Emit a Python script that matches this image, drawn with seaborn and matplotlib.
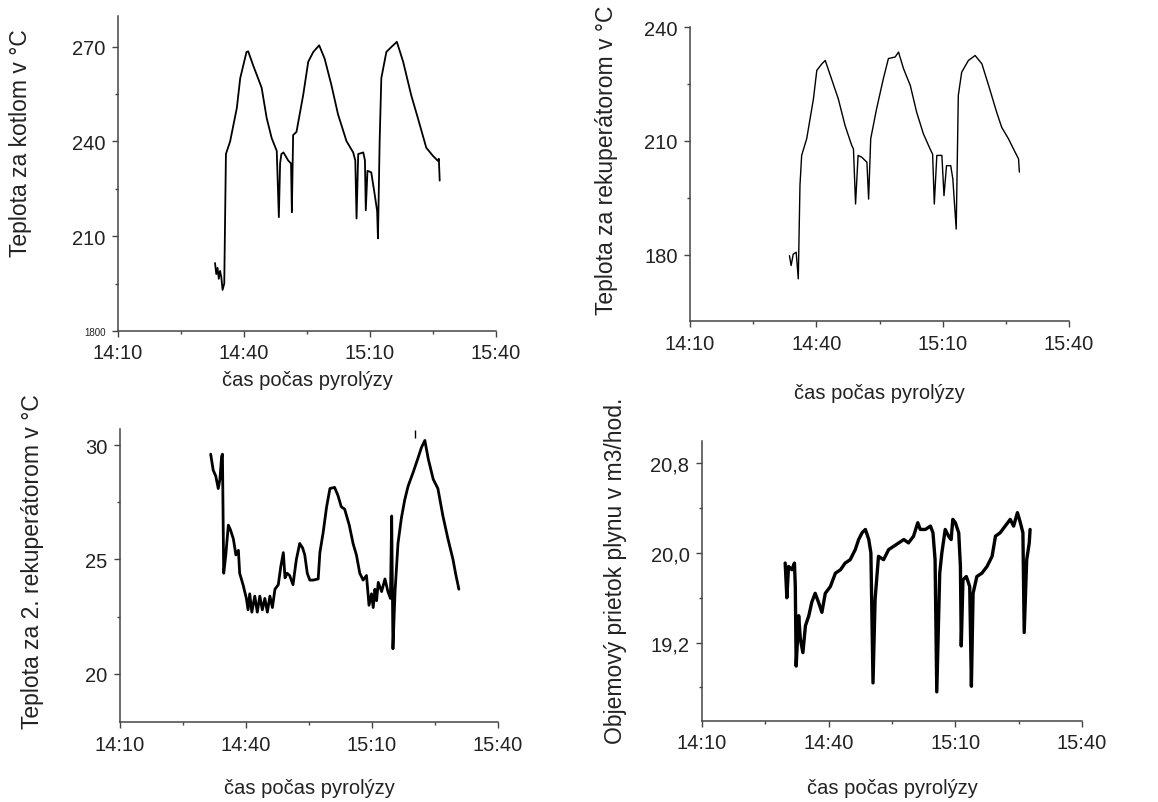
import pandas as pd
import numpy as np
import matplotlib
matplotlib.use("Agg")
import matplotlib.pyplot as plt
import seaborn as sns
from matplotlib.ticker import FixedLocator

# time in minutes after 14:10
t_kotol = [23.1, 23.4, 23.7, 24.0, 24.3, 24.6, 24.9, 25.3, 25.7, 26.2, 26.7, 28.3, 29.1,
           30.6, 31.0, 32.2, 34.2, 35.4, 36.6, 37.8, 38.3, 38.6, 38.9, 39.4, 40.5, 41.2,
           41.4, 41.7, 42.5, 44.1, 45.3, 46.5, 47.9, 49.2, 50.8, 52.4, 54.4, 56.0, 56.5,
           56.8, 57.2, 58.4, 58.8, 59.0, 59.4, 60.3, 61.1, 61.7, 61.9, 62.3, 62.7, 63.9,
           65.1, 66.4, 67.9, 69.8, 71.4, 73.4, 75.0, 76.2, 76.4, 76.6]
v_kotol = [201.5, 198, 200, 196.5, 199, 197, 193, 195, 236, 238, 240, 250.6, 260,
           268.3, 268.5, 264, 257, 247.4, 241, 237, 216, 233, 236, 236.5, 234, 233,
           217.6, 242, 243, 254.7, 265.2, 268.3, 270.4, 266.2, 257.9, 248.5, 240.1, 236.5, 234,
           215.6, 236, 236.5, 234, 218.2, 230.7, 230.2, 223.4, 218, 209.3, 240, 260, 268.3,
           269.9, 271.5, 265.2, 254.7, 247.4, 238, 235.4, 233.8, 234.5, 227.6]

t_rekup = [23.6, 24.0, 24.5, 25.2, 25.7, 26.1, 26.5, 27.7, 29.3, 30.1, 31.3, 32.1, 33.3,
           35.2, 36.8, 38.4, 38.8, 39.3, 39.9, 40.8, 42.0, 42.4, 42.9, 44.3, 45.9, 47.1,
           48.7, 49.5, 50.7, 52.3, 53.8, 55.4, 57.0, 57.6, 58.0, 58.6, 59.8, 60.3, 60.9,
           61.9, 62.4, 63.2, 63.7, 64.5, 66.1, 67.7, 69.3, 70.9, 72.8, 74.0, 75.6, 76.8,
           78.0, 78.2]
v_rekup = [179.8, 177.2, 180.2, 180.7, 173.7, 198.3, 206.2, 210.6, 221.1, 228.6, 230.3, 231.2, 227.3,
           221.1, 214.1, 208.8, 207.9, 193.4, 206.2, 205.7, 204.4, 194.7, 210.6, 218.5, 226.4, 231.7,
           232.1, 233.4, 229.0, 224.6, 217.6, 211.9, 207.9, 206.5, 193.4, 206.2, 206.2, 195.6, 203.5,
           203.5, 200.0, 186.8, 222.0, 228.1, 231.2, 232.5, 230.3, 224.6, 217.6, 213.6, 210.6, 207.9,
           205.3, 201.8]

t_rekup2 = [21.6, 22.2, 22.8, 23.4, 23.8, 24.2, 24.4, 24.7, 25.2, 25.8, 26.3, 27.0, 27.6,
            28.2, 28.5, 29.3, 30.1, 30.5, 30.9, 31.4, 32.1, 32.7, 33.3, 33.9, 34.5, 35.1,
            35.7, 36.3, 36.9, 37.7, 38.3, 38.9, 39.3, 39.8, 40.4, 41.2, 42.0, 42.8, 43.5,
            44.0, 44.6, 45.2, 46.0, 47.2, 47.6, 48.4, 49.2, 50.0, 51.1, 51.9, 52.7, 53.5,
            54.6, 55.5, 56.3, 57.1, 57.9, 58.7, 59.3, 59.9, 60.3, 60.7, 61.1, 61.5, 62.3,
            63.1, 63.8, 64.4, 64.7, 65.0, 65.5, 66.2, 67.0, 67.8, 68.6, 69.8, 71.0, 71.8,
            72.6, 73.4, 74.6, 75.7, 76.9, 78.1, 79.3, 79.9, 80.7]
v_rekup2 = [29.6, 28.9, 28.65, 28.1, 28.5, 29.5, 29.6, 24.4, 25.2, 26.5, 26.3, 25.9, 25.2,
            25.4, 24.4, 23.9, 23.3, 22.8, 23.5, 22.7, 23.4, 22.7, 23.4, 22.8, 23.3, 22.7,
            23.4, 22.9, 23.7, 23.9, 24.7, 25.3, 24.2, 24.4, 24.3, 23.9, 25.0, 25.7, 25.5,
            25.2, 24.4, 24.1, 24.1, 24.15, 25.3, 26.2, 27.3, 28.1, 28.15, 27.8, 27.3, 27.2,
            26.5, 25.7, 25.2, 24.4, 24.1, 24.3, 23.0, 23.5, 22.9, 23.7, 23.2, 24.0, 23.6,
            24.15, 23.6, 23.3, 26.9, 21.1, 23.6, 25.7, 26.8, 27.6, 28.2, 28.8, 29.45, 29.9,
            30.2, 29.4, 28.5, 28.1, 26.9, 25.9, 25.0, 24.4, 23.7]
t_dot = [70.2]
v_dot = [30.5]

t_prietok = [19.7, 20.1, 20.5, 21.3, 21.9, 22.1, 22.3, 22.9, 23.3, 23.9, 24.5, 25.3, 26.0,
             26.8, 27.6, 28.4, 29.2, 30.4, 31.6, 32.8, 33.9, 35.1, 36.3, 37.1, 37.9, 38.7,
             39.5, 40.0, 40.5, 41.0, 41.8, 43.0, 44.2, 45.4, 46.6, 47.8, 48.9, 50.1, 51.1,
             51.7, 52.9, 54.1, 54.7, 55.2, 55.6, 56.3, 56.8, 57.6, 58.4, 59.0, 59.4, 60.0,
             60.8, 61.2, 61.4, 61.8, 62.6, 63.4, 63.8, 64.2, 65.1, 66.3, 67.5, 68.7, 69.5,
             70.6, 71.8, 73.0, 73.8, 74.7, 75.4, 76.0, 76.3, 76.9, 77.5, 77.7]
v_prietok = [19.91, 19.60, 19.88, 19.85, 19.91, 19.70, 18.99, 19.44, 19.23, 19.11, 19.35, 19.44, 19.56,
             19.64, 19.56, 19.47, 19.64, 19.70, 19.82, 19.85, 19.91, 19.94, 20.03, 20.12, 20.18, 20.21,
             20.12, 20.0, 18.84, 19.59, 19.97, 19.94, 20.03, 20.06, 20.09, 20.12, 20.09, 20.15, 20.27,
             20.21, 20.21, 20.24, 20.18, 19.94, 18.76, 19.82, 20.0, 20.21, 20.15, 20.12, 20.30, 20.27,
             20.18, 19.88, 19.17, 19.76, 19.79, 19.70, 18.81, 19.64, 19.79, 19.82, 19.88, 19.97, 20.15,
             20.18, 20.24, 20.30, 20.24, 20.36, 20.27, 20.18, 19.29, 19.94, 20.09, 20.21]

x_ticks = [0, 30, 60, 90]
x_minor = [15, 45, 75]
x_labels = ["14:10", "14:40", "15:10", "15:40"]
xlabel = "čas počas pyrolýzy"

sns.set_style("ticks")
plt.rcParams["font.family"] = ["Liberation Sans", "DejaVu Sans"]
plt.rcParams["axes.edgecolor"] = "#444444"
plt.rcParams["xtick.color"] = "#444444"
plt.rcParams["ytick.color"] = "#444444"
plt.rcParams["xtick.labelcolor"] = "#222222"
plt.rcParams["ytick.labelcolor"] = "#222222"

fig = plt.figure(figsize=(11.58, 8.03), dpi=100)

panels = [
    dict(pos=[0.1019, 0.5866, 0.3264, 0.3923], t=t_kotol, v=v_kotol, lw=1.3,
         ylim=(180, 279.7), yticks=[180, 210, 240, 270], yminor=[195, 225, 255],
         ylabels=["1800", "210", "240", "270"],
         ylabel="Teplota za kotlom v °C", ylc=(-0.228, 0.60), xlc=(0.5, -0.125)),
    dict(pos=[0.5959, 0.5990, 0.3273, 0.3661], t=t_rekup, v=v_rekup, lw=1.0,
         ylim=(162.6, 240), yticks=[180, 210, 240], yminor=[195, 225],
         ylabels=["180", "210", "240"],
         ylabel="Teplota za rekuperátorom v °C", ylc=(-0.19, 0.55), xlc=(0.5, -0.21)),
    dict(pos=[0.1036, 0.0996, 0.3264, 0.3649], t=t_rekup2, v=v_rekup2, lw=2.0,
         ylim=(17.9, 30.7), yticks=[20, 25, 30], yminor=[22.5, 27.5],
         ylabels=["20", "25", "30"],
         ylabel="Teplota za 2. rekuperátorom v °C", ylc=(-0.20, 0.55), xlc=(0.5, -0.19)),
    dict(pos=[0.6062, 0.1009, 0.3282, 0.3487], t=t_prietok, v=v_prietok, lw=2.4,
         ylim=(18.5, 21.0), yticks=[19.2, 20.0, 20.8], yminor=[18.8, 19.6, 20.4],
         ylabels=["19,2", "20,0", "20,8"],
         ylabel="Objemový prietok plynu v m3/hod.", ylc=(-0.197, 0.54), xlc=(0.5, -0.205)),
]

axes = []
for p in panels:
    ax = fig.add_axes(p["pos"])
    df = pd.DataFrame({"t": p["t"], "v": p["v"]})
    sns.lineplot(data=df, x="t", y="v", ax=ax, color="black", lw=p["lw"],
                 estimator=None, sort=False)
    ax.set_xlim(0, 90)
    ax.set_ylim(*p["ylim"])
    ax.xaxis.set_major_locator(FixedLocator(x_ticks))
    ax.xaxis.set_minor_locator(FixedLocator(x_minor))
    ax.set_xticklabels(x_labels)
    ax.yaxis.set_major_locator(FixedLocator(p["yticks"]))
    ax.yaxis.set_minor_locator(FixedLocator(p["yminor"]))
    ax.set_yticklabels(p["ylabels"])
    ax.tick_params(axis="both", which="major", labelsize=14.5, length=4, width=1, pad=5)
    ax.tick_params(axis="both", which="minor", length=2.5, width=1)
    ax.set_xlabel(xlabel, fontsize=14.5, color="#222222")
    ax.set_ylabel(p["ylabel"], fontsize=16.5, color="#222222")
    ax.yaxis.set_label_coords(*p["ylc"])
    ax.xaxis.set_label_coords(*p["xlc"])
    sns.despine(ax=ax)
    for s in ["left", "bottom"]:
        ax.spines[s].set_linewidth(1.1)
    axes.append(ax)

# small first tick label on the first panel
axes[0].get_yticklabels()[0].set_fontsize(7)
sns.scatterplot(x=t_dot, y=v_dot, ax=axes[2], marker="|", color="black", s=30, linewidth=1)

fig.savefig("out.png", dpi=100)
